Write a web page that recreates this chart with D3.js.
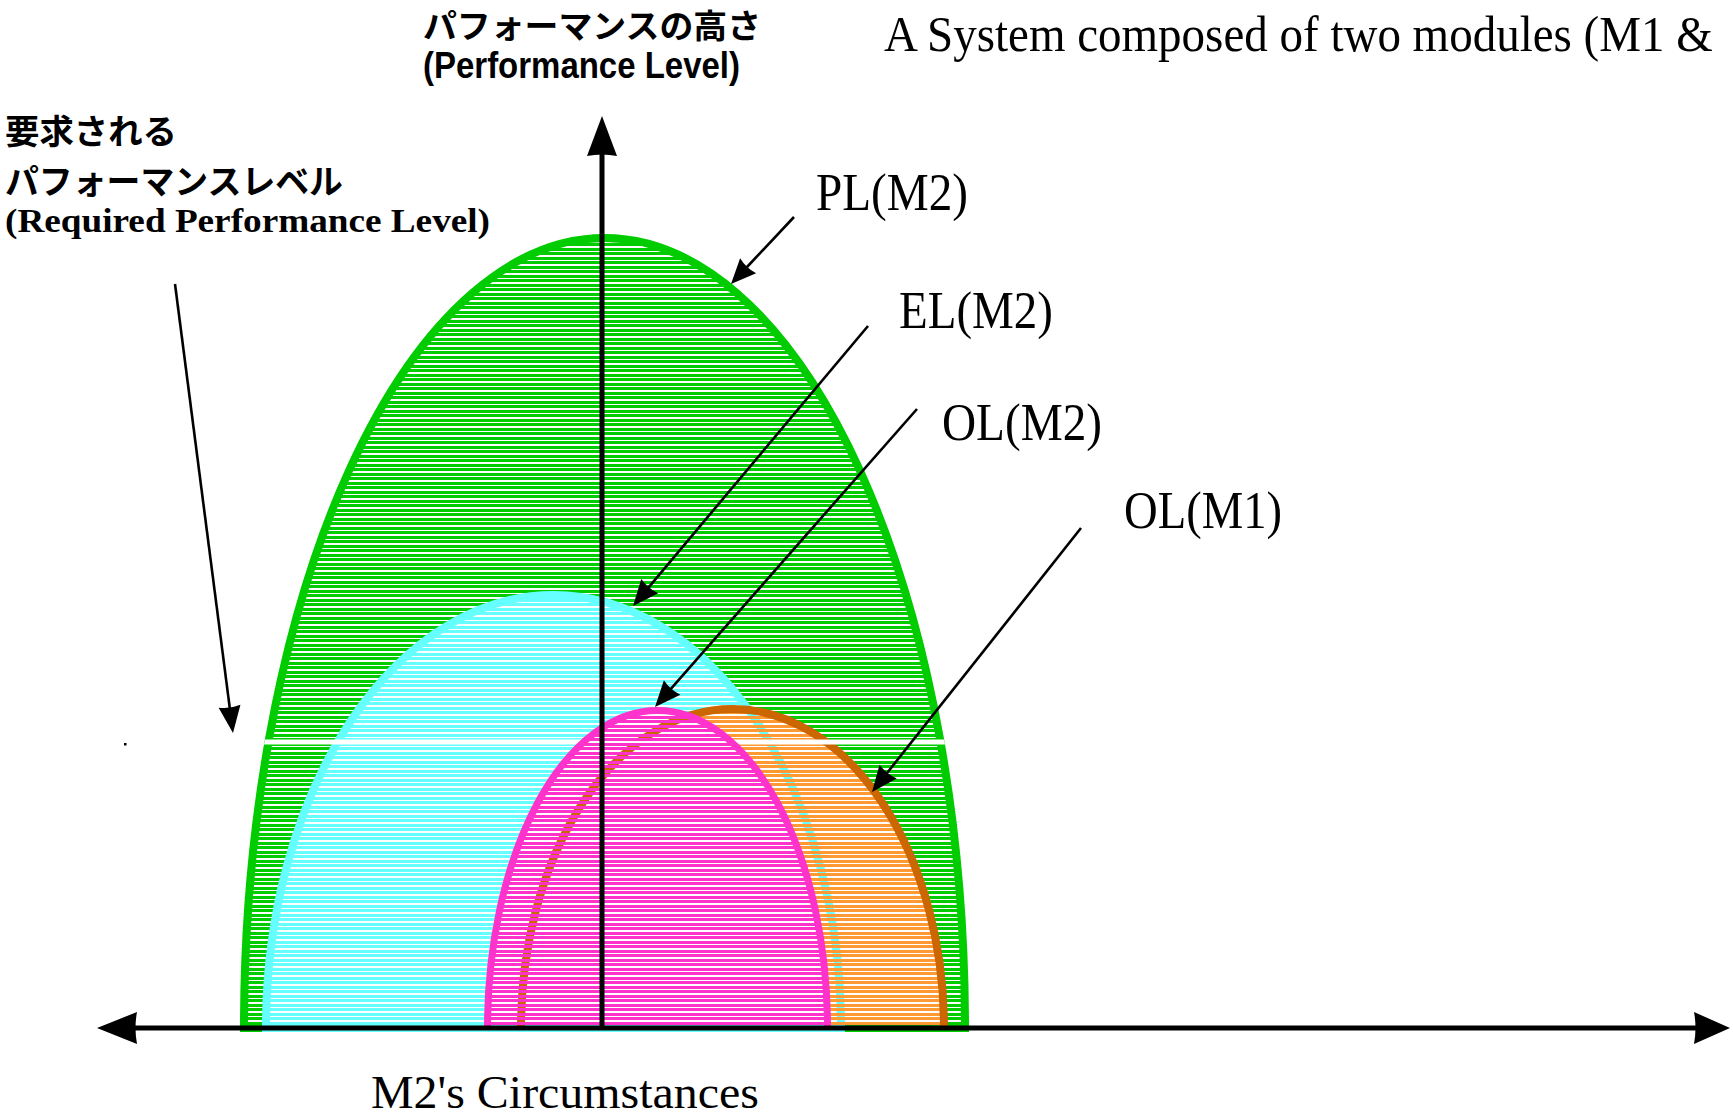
<!DOCTYPE html>
<html>
<head>
<meta charset="utf-8">
<script src="https://d3js.org/d3.v7.min.js"></script>
<style>
  body { margin: 0; background: #ffffff; }
</style>
</head>
<body>
<div id="my_dataviz"></div>
<script>
// Canvas size
var width = 1733
var height = 1118

// Data: the four performance domes (x in "circumstance" units, height in performance units)
var levelNames = ["PL(M2)", "EL(M2)", "OL(M2)", "OL(M1)"]
var levelLeft  = [-36.2, -34.0, -11.8, -8.5]
var levelRight = [36.7, 24.3, 22.9, 34.6]
var levelPeak  = [79.4, 43.7, 32.1, 32.3]
var requiredLevel = 28.6

// Drawing order (back to front) and colours
var drawOrder = [0, 1, 3, 2]
var fillColors   = ["#00cc00", "#66ffff", "#ff33cc", "#ff9933"]
var strokeColors = ["#00cc00", "#66ffff", "#ff33cc", "#cc6600"]
var strokeWidths = [8, 8, 7, 8]

// Scales: 0 of both axes sits on the crossing of the two arrows
var x = d3.scaleLinear().domain([-50.5, 112.8]).range([97, 1730])
var y = d3.scaleLinear().domain([0, 91.2]).range([1028, 116])

var svg = d3.select("#my_dataviz")
  .append("svg")
    .attr("width", width)
    .attr("height", height)
    .style("display", "block")

// Hatch patterns: horizontal stripes on a 9px tile (two stripes),
// gaps left transparent so the layers below show through
var defs = svg.append("defs")
fillColors.forEach(function(c, i) {
  var p = defs.append("pattern")
    .attr("id", "hatch" + i)
    .attr("patternUnits", "userSpaceOnUse")
    .attr("width", 20)
    .attr("height", 9)
  p.append("rect")
    .attr("y", 0).attr("width", 20).attr("height", 3)
    .attr("fill", c).attr("shape-rendering", "crispEdges")
  p.append("rect")
    .attr("y", 5).attr("width", 20).attr("height", 3)
    .attr("fill", c).attr("shape-rendering", "crispEdges")
})

// Half ellipse standing on the x axis
function dome(i, inset) {
  var x0 = x(levelLeft[i]), x1 = x(levelRight[i])
  var y0 = y(0), yt = y(levelPeak[i])
  var cx = (x0 + x1) / 2
  var rx = (x1 - x0) / 2 - inset
  var ry = (y0 - yt) - inset
  return "M" + (cx - rx) + "," + y0 + " A" + rx + "," + ry + " 0 0 1 " + (cx + rx) + "," + y0
}

defs.append("clipPath").attr("id", "clipPL")
  .append("path").attr("d", dome(0, 0) + "Z")

var shapes = svg.append("g")

drawOrder.forEach(function(i) {
  var g = shapes.append("g").attr("class", "dome")
  g.append("path")
    .attr("d", dome(i, strokeWidths[i] / 2) + "Z")
    .attr("fill", "url(#hatch" + i + ")")
  g.append("path")
    .attr("d", dome(i, strokeWidths[i] / 2) + (i < 2 ? "Z" : ""))
    .attr("fill", "none")
    .attr("stroke", strokeColors[i])
    .attr("stroke-width", strokeWidths[i])

  // the required performance level cuts through everything below OL(M2)
  if (i === 3) {
    shapes.append("line")
      .attr("clip-path", "url(#clipPL)")
      .attr("x1", x(-45)).attr("x2", x(45))
      .attr("y1", y(requiredLevel)).attr("y2", y(requiredLevel))
      .attr("stroke", "#ffffff")
      .attr("stroke-width", 5)
  }
})

// Arrow helper: line plus filled head at the tip
function arrow(parent, x1, y1, x2, y2, len, half, w) {
  var a = Math.atan2(y2 - y1, x2 - x1)
  var bx = x2 - len * Math.cos(a), by = y2 - len * Math.sin(a)
  parent.append("line")
    .attr("x1", x1).attr("y1", y1)
    .attr("x2", bx + Math.cos(a) * 2).attr("y2", by + Math.sin(a) * 2)
    .attr("stroke", "#000").attr("stroke-width", w)
  var px = -Math.sin(a) * half, py = Math.cos(a) * half
  parent.append("path")
    .attr("d", "M" + x2 + "," + y2 + "L" + (bx + px) + "," + (by + py) +
      "Q" + (bx + Math.cos(a) * 3) + "," + (by + Math.sin(a) * 3) + " " + (bx - px) + "," + (by - py) + "Z")
    .attr("fill", "#000")
}

// Axes
var axes = svg.append("g")
arrow(axes, x(0), y(0), x(0), y(91.2), 40, 15, 5)
arrow(axes, x(0), y(0), x(-50.5), y(0), 40, 16, 5)
arrow(axes, x(0), y(0), x(112.8), y(0), 36, 16, 5)

// Annotation arrows (pixel layout)
var notes = svg.append("g")
arrow(notes, 175, 284, 233, 733, 27, 11, 2.6)
arrow(notes, 794, 217, 731, 284, 25, 11, 2.6)
arrow(notes, 868, 326, 633, 606, 26, 11, 2.6)
arrow(notes, 917, 409, 655, 707, 26, 11, 2.6)
arrow(notes, 1081, 528, 872, 792, 26, 11, 2.6)

// stray dot of the original drawing
svg.append("rect").attr("x", 124).attr("y", 743).attr("width", 2.5).attr("height", 2.5).attr("fill", "#000")

// Texts
function label(t, px, py, size, family, len, weight) {
  svg.append("text")
    .attr("x", px).attr("y", py)
    .attr("font-family", family)
    .attr("font-size", size)
    .attr("font-weight", weight || "normal")
    .attr("textLength", len)
    .attr("lengthAdjust", "spacingAndGlyphs")
    .attr("fill", "#000")
    .text(t)
}

var serif = "'Liberation Serif', 'Times New Roman', serif"
var cjk = "'Noto Sans CJK JP', sans-serif"
var sans = "'Liberation Sans', Arial, sans-serif"

// title: natural width, stretched a little in height only
svg.append("text")
  .attr("transform", "translate(884,51) scale(1,1.08)")
  .attr("font-family", serif)
  .attr("font-size", 47)
  .attr("fill", "#000")
  .text("A System composed of two modules (M1 &")

label("パフォーマンスの高さ", 423, 38, 33, cjk, 338, "bold")
label("(Performance Level)", 423, 78, 36, sans, 317, "bold")
label("要求される", 5, 144, 34, cjk, 172, "bold")
label("パフォーマンスレベル", 5, 194, 34, cjk, 338, "bold")
label("(Required Performance Level)", 5, 232, 34, serif, 485, "bold")
label("M2's Circumstances", 371, 1108, 47, serif, 388)

var labelX = [816, 899, 942, 1124]
var labelY = [210, 328, 440, 528]
var labelW = [152, 154, 160, 158]
levelNames.forEach(function(n, i) {
  label(n, labelX[i], labelY[i], 52, serif, labelW[i])
})
</script>
</body>
</html>
